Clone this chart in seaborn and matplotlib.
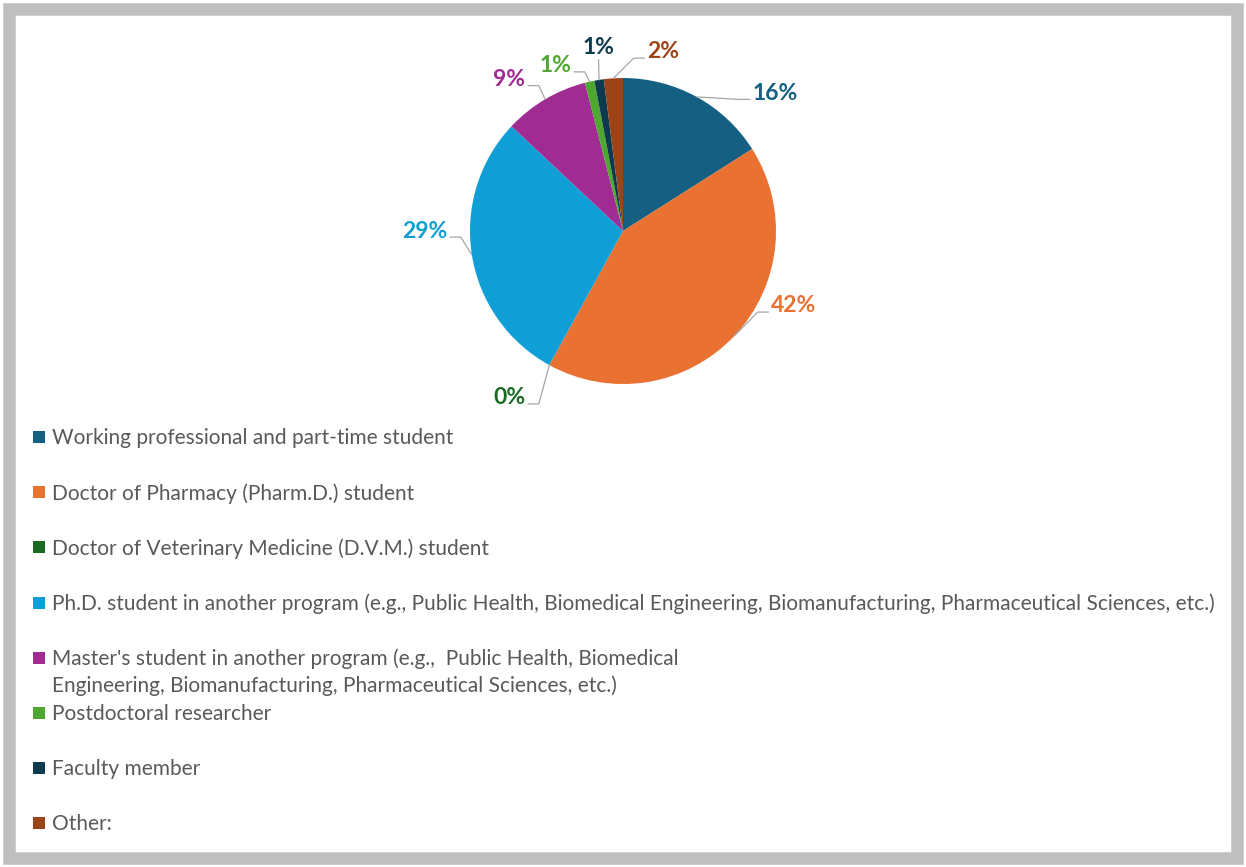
import numpy as np
import matplotlib
matplotlib.use("Agg")
import matplotlib.pyplot as plt
import seaborn as sns
from matplotlib.patches import Rectangle

# data
categories = [
    "Working professional and part-time student",
    "Doctor of Pharmacy (Pharm.D.) student",
    "Doctor of Veterinary Medicine (D.V.M.) student",
    "Ph.D. student in another program (e.g., Public Health, Biomedical Engineering, Biomanufacturing, Pharmaceutical Sciences, etc.)",
    "Master's student in another program (e.g.,  Public Health, Biomedical\nEngineering, Biomanufacturing, Pharmaceutical Sciences, etc.)",
    "Postdoctoral researcher",
    "Faculty member",
    "Other:",
]
shares = [16, 42, 0, 29, 9, 1, 1, 2]
pct_labels = ["16%", "42%", "0%", "29%", "9%", "1%", "1%", "2%"]
colors = ["#156082", "#E97132", "#196B24", "#0F9ED5",
          "#A02B93", "#4EA72E", "#0D3A4E", "#9C4318"]

# label knee points (pie radius units) and direction of the label from the knee
label_knees = [(0.76, 0.86), (0.88, -0.53), (-0.55, -1.13), (-1.06, -0.04),
               (-0.55, 0.95), (-0.25, 1.04), (-0.16, 1.12), (0.07, 1.13)]
label_dirs = ["right", "right", "left", "left", "left", "left", "up", "right"]

sns.set_theme(style="white")
plt.rcParams['font.family'] = ['Lato', 'DejaVu Sans']
palette = sns.color_palette(colors)

W, H = 1246, 867
fig = plt.figure(figsize=(W / 100, H / 100), dpi=100)
fig.patch.set_facecolor("white")

# outer grey frame
fig.patches.append(Rectangle((9 / W, 9 / H), 1 - 18 / W, 1 - 18 / H,
                             transform=fig.transFigure, fill=False,
                             edgecolor="#BFBFBF", linewidth=9, zorder=0))

# pie axes: centre (623, 231) px, radius 153 px
R = 153
cx, cy = 623, 231
aw, ah = 640, 420
ax = fig.add_axes([(cx - aw / 2) / W, 1 - (cy + ah / 2) / H, aw / W, ah / H])
wedges, _ = ax.pie(shares, colors=palette, startangle=90, counterclock=False,
                   radius=1.0, wedgeprops=dict(linewidth=0))
ax.set_xlim(-aw / 2 / R, aw / 2 / R)
ax.set_ylim(-ah / 2 / R, ah / 2 / R)
ax.set_aspect("auto")
ax.axis("off")

line_col = "#A6A6A6"
for w, lab, col, (kx, ky), d in zip(wedges, pct_labels, palette, label_knees, label_dirs):
    mid = np.deg2rad((w.theta1 + w.theta2) / 2)
    px, py = np.cos(mid), np.sin(mid)
    if d == "up":
        ax.plot([px, kx], [py, ky], color=line_col, lw=0.9)
        ax.text(kx, ky + 0.01, lab, color=col, fontsize=16.5, fontweight="bold",
                ha="center", va="bottom")
        continue
    s = 1 if d == "right" else -1
    ax.plot([px, kx, kx + s * 0.07], [py, ky, ky], color=line_col, lw=0.9)
    ax.text(kx + s * 0.09, ky + 0.04, lab, color=col, fontsize=16.5,
            fontweight="bold", ha="left" if s > 0 else "right", va="center")

# legend, drawn as squares and text in figure pixels
y0, step = 437, 55.2
for i, (cat, col) in enumerate(zip(categories, palette)):
    y = y0 + i * step
    fig.patches.append(Rectangle((33 / W, 1 - (y + 6) / H), 12 / W, 12 / H,
                                 transform=fig.transFigure, facecolor=col,
                                 edgecolor="none"))
    fig.text(52 / W, 1 - (y - 9) / H, cat, color="#595959", fontsize=15,
             ha="left", va="top", linespacing=1.34)

fig.savefig("out.png", dpi=100, facecolor="white")
